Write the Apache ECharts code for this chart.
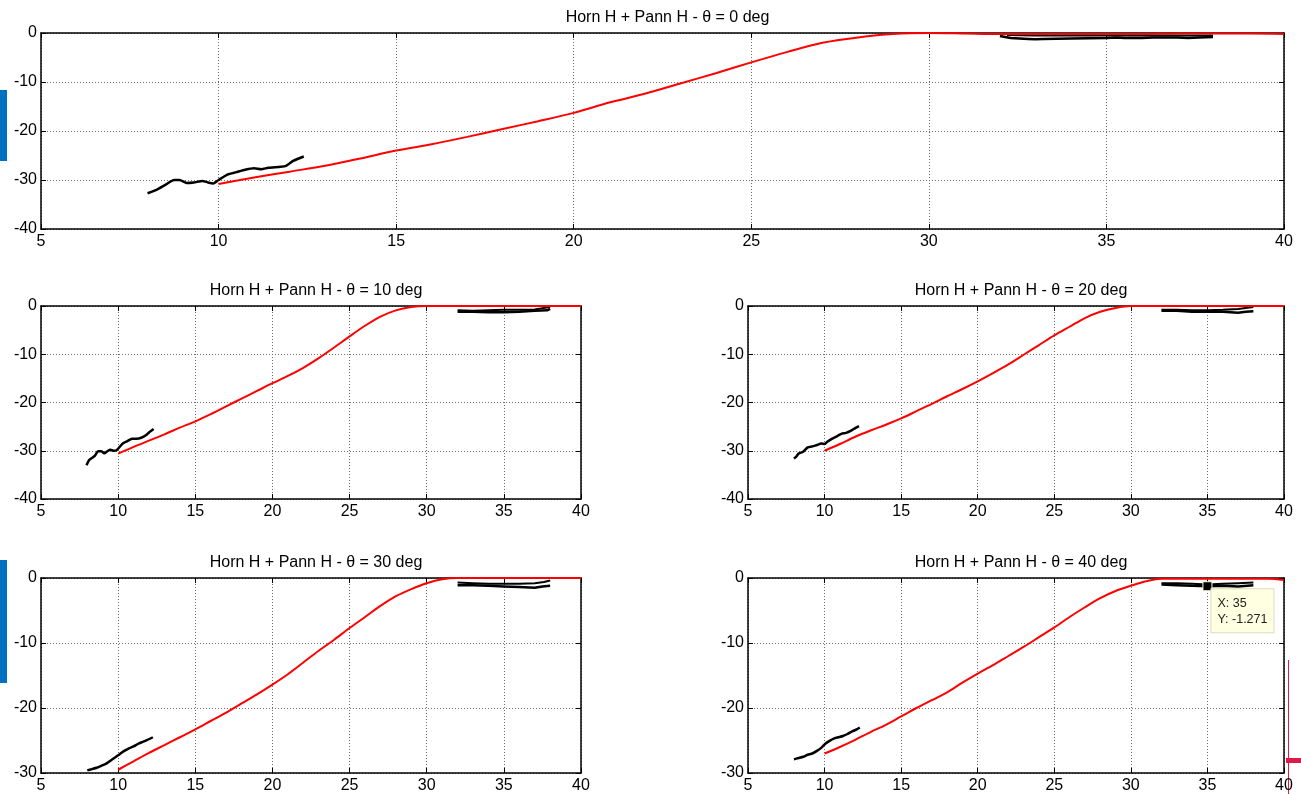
<!DOCTYPE html>
<html>
<head>
<meta charset="utf-8">
<script src="https://cdn.jsdelivr.net/npm/echarts@6/dist/echarts.min.js"></script>
<style>
  html, body { margin: 0; padding: 0; background: #fff; }
  #chart { width: 1301px; height: 794px; }
</style>
</head>
<body>
<div id="chart"></div>
<script>
// Frequency samples of the simulated curves (red)
const simX = [10,11,12,13,14,15,16,17,18,19,20,21,22,23,24,25,26,27,28,29,30,31,32,33,34,35,36,37,38,39,40];

// Simulated response for each angle (dB)
const sim0  = [-30.8,-29.5,-28.3,-27.1,-25.6,-24.0,-22.7,-21.2,-19.6,-18.0,-16.3,-14.2,-12.4,-10.3,-8.2,-6.0,-3.9,-2.0,-0.9,-0.2,0,-0.1,-0.2,-0.2,-0.2,-0.2,-0.2,-0.1,-0.1,-0.1,-0.2];
const sim10 = [-30.6,-29.2,-27.9,-26.6,-25.2,-23.9,-22.4,-20.8,-19.2,-17.6,-16.0,-14.5,-12.8,-10.8,-8.6,-6.3,-4.1,-2.2,-0.9,-0.2,0,0,0,0,0,0,0,0,0,0,0];
const sim20 = [-30.0,-28.6,-27.1,-25.8,-24.6,-23.3,-21.8,-20.3,-18.7,-17.2,-15.6,-13.9,-12.1,-10.1,-8.1,-6.1,-4.3,-2.5,-1.2,-0.4,0,0,0,0,0,0,0,0,0,0,0];
const sim30 = [-29.5,-28.2,-26.9,-25.7,-24.5,-23.3,-22.0,-20.7,-19.3,-17.9,-16.4,-14.8,-13.0,-11.2,-9.5,-7.7,-6.0,-4.3,-2.8,-1.7,-0.8,-0.2,0,0,0,0,0,0,0,0,0];
const sim40 = [-27.0,-26.0,-24.9,-23.7,-22.6,-21.3,-20.0,-18.8,-17.6,-16.1,-14.7,-13.4,-12.0,-10.6,-9.1,-7.6,-6.0,-4.5,-3.1,-2.0,-1.2,-0.5,-0.1,-0.1,-0.1,-0.1,-0.1,-0.1,-0.1,-0.1,-0.3];

// Measured response, low band (black)
const meas0L  = [[8.0,-32.7],[8.25,-32.0],[8.5,-31.0],[8.75,-30.0],[8.9,-30.0],[9.1,-30.6],[9.3,-30.5],[9.55,-30.2],[9.7,-30.5],[9.85,-30.7],[10.0,-30.0],[10.25,-28.9],[10.5,-28.4],[10.75,-27.9],[11.0,-27.6],[11.2,-27.8],[11.4,-27.5],[11.75,-27.3],[11.9,-27.1],[12.1,-26.1],[12.4,-25.2]];
const meas10L = [[7.95,-33.0],[8.1,-32.0],[8.3,-31.5],[8.5,-31.0],[8.7,-30.1],[8.9,-30.1],[9.1,-30.5],[9.3,-30.1],[9.5,-29.8],[9.7,-30.0],[9.9,-29.9],[10.1,-29.2],[10.3,-28.5],[10.6,-28.0],[10.9,-27.5],[11.2,-27.5],[11.5,-27.3],[11.8,-26.8],[12.0,-26.2],[12.3,-25.5]];
const meas20L = [[8.0,-31.6],[8.15,-31.2],[8.3,-30.6],[8.6,-30.2],[8.9,-29.3],[9.2,-29.1],[9.5,-28.8],[9.8,-28.5],[10.0,-28.6],[10.2,-28.1],[10.5,-27.5],[10.8,-27.0],[11.1,-26.5],[11.4,-26.3],[11.7,-25.9],[12.0,-25.3],[12.25,-24.9]];
const meas30L = [[8.0,-29.6],[8.3,-29.4],[8.6,-29.2],[8.9,-28.9],[9.2,-28.6],[9.5,-28.1],[9.8,-27.6],[10.1,-27.1],[10.4,-26.6],[10.7,-26.2],[11.0,-25.9],[11.3,-25.5],[11.6,-25.2],[11.9,-24.9],[12.25,-24.5]];
const meas40L = [[8.0,-27.9],[8.3,-27.7],[8.6,-27.5],[8.9,-27.2],[9.2,-27.0],[9.5,-26.6],[9.8,-26.1],[10.05,-25.5],[10.3,-25.1],[10.6,-24.7],[10.9,-24.5],[11.2,-24.3],[11.5,-24.0],[11.8,-23.6],[12.1,-23.3],[12.3,-23.0]];

// Measured response, high band (black, two traces)
const meas0Ra  = [[32.0,-0.6],[32.3,-1.0],[32.8,-1.2],[33.0,-1.3],[33.2,-1.2],[34,-1.1],[35,-1.0],[35.3,-0.9],[35.5,-1.0],[36,-1.0],[36.3,-0.9],[37,-0.9],[37.3,-1.0],[37.6,-0.9],[38,-0.8]];
const meas0Rb  = [[32.2,-0.4],[33,-0.5],[34,-0.5],[35,-0.5],[36,-0.5],[37,-0.5],[38,-0.5]];
const meas10Ra = [[32,-1.2],[33,-1.2],[34,-1.3],[35,-1.3],[36,-1.2],[37,-1.0],[37.8,-0.9],[38,-0.6]];
const meas10Rb = [[32,-0.9],[33,-1.0],[34,-0.9],[35,-0.8],[36,-0.8],[37,-0.7],[38,-0.2]];
const meas20Ra = [[32,-1.0],[33,-1.0],[34,-1.2],[35,-1.2],[36,-1.2],[37,-1.4],[37.5,-1.2],[38,-1.1]];
const meas20Rb = [[32,-0.8],[33,-0.8],[34,-0.9],[35,-0.9],[36,-0.8],[37,-0.6],[38,-0.2]];
const meas30Ra = [[32,-1.1],[33,-1.1],[34,-1.2],[35,-1.3],[36,-1.4],[37,-1.5],[37.5,-1.3],[38,-1.2]];
const meas30Rb = [[32,-0.7],[33,-0.8],[34,-0.9],[35,-0.9],[36,-0.9],[37,-0.8],[37.6,-0.6],[38,-0.4]];
const meas40Ra = [[32,-1.0],[33,-1.1],[34,-1.2],[35,-1.271],[36,-1.2],[37,-1.3],[38,-1.1]];
const meas40Rb = [[32,-0.8],[33,-0.8],[34,-0.9],[35,-1.0],[36,-0.9],[37,-0.8],[38,-0.7]];

// Data cursor point
const cursorPoint = [35, -1.271];

const titles = ['Horn H + Pann H - \u03b8 = 0 deg','Horn H + Pann H - \u03b8 = 10 deg','Horn H + Pann H - \u03b8 = 20 deg','Horn H + Pann H - \u03b8 = 30 deg','Horn H + Pann H - \u03b8 = 40 deg'];
const yMins = [-40, -40, -40, -30, -30];
const simY = [sim0, sim10, sim20, sim30, sim40];
const measL = [meas0L, meas10L, meas20L, meas30L, meas40L];
const measRa = [meas0Ra, meas10Ra, meas20Ra, meas30Ra, meas40Ra];
const measRb = [meas0Rb, meas10Rb, meas20Rb, meas30Rb, meas40Rb];

const FONT = '"Liberation Sans", Arial, sans-serif';
const boxes = [
  {left: 41,  top: 33,  width: 1243, height: 196},
  {left: 41,  top: 306, width: 540,  height: 193},
  {left: 748, top: 306, width: 536,  height: 193},
  {left: 41,  top: 578, width: 540,  height: 195},
  {left: 748, top: 578, width: 536,  height: 195}
];

const grid = [], xAxis = [], yAxis = [], series = [], title = [];
const gridLine = {show: true, lineStyle: {color: '#6e6e6e', width: 1, type: [1, 2]}};
const border = {show: true, onZero: false, lineStyle: {color: '#000', width: 1.5}};
const tick = {show: true, inside: true, length: 5, lineStyle: {color: '#000', width: 1}};

boxes.forEach((b, i) => {
  grid.push({left: b.left, top: b.top, width: b.width, height: b.height, containLabel: false});
  title.push({
    text: titles[i], left: b.left + b.width / 2, top: b.top - 28, textAlign: 'center',
    textStyle: {fontFamily: FONT, fontSize: 16, fontWeight: 'normal', color: '#000'}
  });
  // bottom and top x axes
  xAxis.push({type: 'value', gridIndex: i, min: 5, max: 40, interval: 5, position: 'bottom',
    axisLine: border, axisTick: tick, splitLine: gridLine,
    axisLabel: {color: '#000', fontFamily: FONT, fontSize: 16, margin: 5}});
  xAxis.push({type: 'value', gridIndex: i, min: 5, max: 40, interval: 5, position: 'top',
    axisLine: border, axisTick: tick, splitLine: {show: false}, axisLabel: {show: false}});
  // left and right y axes
  yAxis.push({type: 'value', gridIndex: i, min: yMins[i], max: 0, interval: 10, position: 'left',
    axisLine: border, axisTick: tick, splitLine: gridLine,
    axisLabel: {color: '#000', fontFamily: FONT, fontSize: 16, margin: 4}});
  yAxis.push({type: 'value', gridIndex: i, min: yMins[i], max: 0, interval: 10, position: 'right',
    axisLine: border, axisTick: tick, splitLine: {show: false}, axisLabel: {show: false}});

  const xi = i * 2, yi = i * 2;
  const lineBase = {type: 'line', xAxisIndex: xi, yAxisIndex: yi, showSymbol: false, symbol: 'none', animation: false, silent: true, clip: false};
  series.push(Object.assign({}, lineBase, {
    data: measL[i], lineStyle: {color: '#000', width: 2.5}, smooth: 0.2
  }));
  series.push(Object.assign({}, lineBase, {
    data: measRb[i], lineStyle: {color: '#000', width: 2}
  }));
  const ra = Object.assign({}, lineBase, {
    data: measRa[i], lineStyle: {color: '#000', width: 2.5}
  });
  if (i === 4) {
    ra.markPoint = {
      symbol: 'rect', symbolSize: 9, itemStyle: {color: '#000', borderColor: '#fffbd0', borderWidth: 1},
      data: [{coord: cursorPoint}],
      label: {
        show: true, position: [9, 8], align: 'left', verticalAlign: 'top',
        formatter: 'X: ' + cursorPoint[0] + '\nY: ' + cursorPoint[1],
        backgroundColor: '#ffffe1', borderColor: '#dcdcc0', borderWidth: 1,
        padding: [6, 6, 5, 6], lineHeight: 16,
        fontFamily: FONT, fontSize: 12.5, color: '#222'
      }
    };
  }
  series.push(ra);
  series.push(Object.assign({}, lineBase, {
    data: simX.map((x, k) => [x, simY[i][k]]), lineStyle: {color: '#ff0000', width: 2}, smooth: 0.3
  }));
});

const chart = echarts.init(document.getElementById('chart'), null, {renderer: 'canvas'});
chart.setOption({
  backgroundColor: '#fff',
  animation: false,
  title, grid, xAxis, yAxis, series,
  graphic: [
    {type: 'rect', left: 0, top: 90, shape: {width: 7, height: 71}, style: {fill: '#0070c0'}},
    {type: 'rect', left: 0, top: 560, shape: {width: 7, height: 123}, style: {fill: '#0070c0'}},
    {type: 'rect', left: 1288, top: 660, shape: {width: 1, height: 134}, style: {fill: '#e0184a'}},
    {type: 'rect', left: 1286, top: 758, shape: {width: 15, height: 5}, style: {fill: '#e0184a'}}
  ]
});
</script>
</body>
</html>
